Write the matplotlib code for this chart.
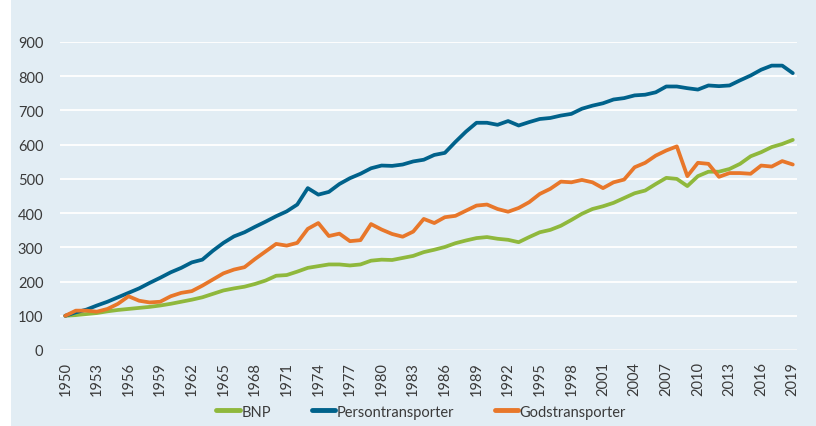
import matplotlib
matplotlib.use("Agg")
import matplotlib.pyplot as plt
from matplotlib.patches import Rectangle

# ── Data (index, 1950 = 100) ──────────────────────────────────────────────────
years = list(range(1950, 2020))

bnp = [100, 102, 105, 108, 113, 117, 120, 123, 126, 130,
       135, 141, 147, 154, 164, 174, 180, 185, 193, 203,
       217, 219, 229, 240, 245, 250, 250, 247, 250, 261,
       264, 263, 269, 275, 286, 293, 301, 312, 320, 327,
       330, 325, 322, 315, 330, 344, 351, 363, 380, 398,
       412, 420, 430, 444, 458, 466, 485, 503, 500, 479,
       508, 521, 521, 529, 544, 566, 578, 593, 602, 614]

person = [100, 110, 118, 130, 141, 154, 167, 180, 196, 211,
          227, 240, 256, 264, 290, 313, 332, 344, 360, 375,
          391, 405, 425, 473, 454, 462, 485, 502, 515, 531,
          539, 538, 542, 551, 556, 570, 576, 608, 638, 664,
          664, 658, 669, 656, 666, 675, 678, 685, 690, 705,
          714, 721, 732, 736, 744, 746, 753, 770, 770, 765,
          761, 773, 771, 773, 788, 802, 819, 831, 831, 809]

gods = [100, 115, 115, 112, 120, 135, 157, 144, 139, 141,
        157, 167, 172, 188, 206, 224, 235, 242, 266, 288,
        310, 305, 313, 354, 371, 333, 340, 318, 321, 368,
        352, 339, 331, 346, 383, 371, 388, 392, 407, 422,
        425, 412, 404, 415, 432, 456, 471, 492, 490, 497,
        490, 473, 490, 498, 534, 547, 568, 583, 595, 508,
        547, 544, 506, 517, 517, 515, 539, 536, 552, 542]

series_names = ["BNP", "Persontransporter", "Godstransporter"]
y_ticks = [0, 100, 200, 300, 400, 500, 600, 700, 800, 900]
x_ticks = list(range(1950, 2020, 3))

# ── Style ─────────────────────────────────────────────────────────────────────
BG     = "#e2edf4"
GREEN  = "#8fb83c"
BLUE   = "#00628b"
ORANGE = "#e8772a"
TEXT   = "#3a3a3a"

plt.rcParams["font.family"] = ["Lato", "DejaVu Sans"]

fig = plt.figure(figsize=(8.16, 4.27), dpi=100, facecolor=BG)
# thin white strip on the left edge
fig.patches.append(Rectangle((0, 0), 11 / 816, 1, transform=fig.transFigure,
                             facecolor="white", edgecolor="none", zorder=0))

ax = fig.add_axes([60 / 816, 76 / 427, 737 / 816, 308 / 427])
ax.set_facecolor(BG)

for vals, color, name in zip([bnp, person, gods], [GREEN, BLUE, ORANGE], series_names):
    ax.plot(years, vals, color=color, linewidth=2.7, label=name,
            solid_capstyle="round", solid_joinstyle="round", zorder=3)

ax.set_xlim(1949.5, 2019.4)
ax.set_ylim(0, 900)
ax.set_yticks(y_ticks)
ax.set_xticks(x_ticks)
ax.set_xticklabels([str(y) for y in x_ticks], rotation=90)

ax.grid(axis="y", color="white", linewidth=1.3, zorder=1)
ax.grid(axis="x", visible=False)
ax.axhline(0, color="#d6dde3", linewidth=1.0, zorder=2)
for spine in ax.spines.values():
    spine.set_visible(False)
ax.tick_params(axis="both", length=0, colors=TEXT, labelsize=10.5)
ax.tick_params(axis="y", pad=12)
ax.tick_params(axis="x", pad=8)

leg = ax.legend(loc="center", bbox_to_anchor=(0.49, -0.2), ncol=3,
                frameon=False, fontsize=10.5, handlelength=1.6,
                handletextpad=0.1, columnspacing=2.8, borderpad=0.2)
for t in leg.get_texts():
    t.set_color(TEXT)
for h in leg.get_lines():
    h.set_linewidth(3.5)

fig.savefig("out.png", dpi=100, facecolor=BG)
plt.close(fig)
